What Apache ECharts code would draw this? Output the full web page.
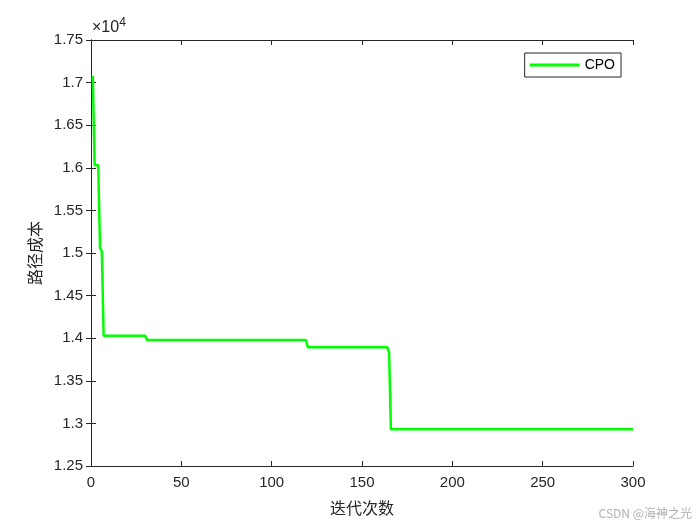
<!DOCTYPE html>
<html>
<head>
<meta charset="utf-8">
<script src="https://cdn.jsdelivr.net/npm/echarts@6/dist/echarts.min.js"></script>
<style>
  html, body { margin: 0; padding: 0; background: #fff; }
  #main { width: 700px; height: 525px; }
</style>
</head>
<body>
<div id="main"></div>
<script>
// iteration at which the best cost changes, and the cost from there on
var iterations = [1, 2, 4, 5, 6, 7, 30, 31, 119, 120, 164, 165, 166, 300];
var costs = [17080, 16030, 16030, 15060, 15020, 14030, 14030, 13980, 13980, 13895, 13895, 13830, 12930, 12930];
var seriesName = 'CPO';
var xName = '迭代次数';
var yName = '路径成本';

var chart = echarts.init(document.getElementById('main'));

var axisCommon = {
  type: 'value',
  axisLine: { show: true, lineStyle: { color: '#262626', width: 1 } },
  axisTick: { show: true, inside: true, length: 5, lineStyle: { color: '#262626' } },
  splitLine: { show: false }
};

var option = {
  animation: false,
  backgroundColor: '#fff',
  grid: { left: 91, right: 67, top: 40, bottom: 59 },
  legend: {
    data: [seriesName],
    right: 79,
    top: 53,
    orient: 'vertical',
    icon: 'rect',
    itemWidth: 50,
    itemHeight: 3,
    itemGap: 0,
    padding: [5, 6, 5, 5],
    borderColor: '#262626',
    borderWidth: 1,
    borderRadius: 0,
    textStyle: { fontFamily: 'Liberation Sans, Arial', fontSize: 14, color: '#000' }
  },
  xAxis: [
    Object.assign({}, axisCommon, {
      min: 0, max: 300, interval: 50,
      position: 'bottom',
      name: xName,
      nameLocation: 'middle',
      nameGap: 34,
      nameTextStyle: { fontFamily: 'Noto Sans CJK SC', fontSize: 16, color: '#262626' },
      axisLabel: { fontFamily: 'Liberation Sans, Arial', fontSize: 15, color: '#262626', margin: 9 }
    }),
    Object.assign({}, axisCommon, {
      min: 0, max: 300, interval: 50,
      position: 'top',
      axisLabel: { show: false }
    })
  ],
  yAxis: [
    Object.assign({}, axisCommon, {
      min: 12500, max: 17500, interval: 500,
      position: 'left',
      name: yName,
      nameLocation: 'middle',
      nameGap: 48,
      nameTextStyle: { fontFamily: 'Noto Sans CJK SC', fontSize: 16, color: '#262626' },
      axisLabel: {
        fontFamily: 'Liberation Sans, Arial', fontSize: 15, color: '#262626', margin: 8,
        formatter: function (v) { return String(+(v / 10000).toFixed(2)); }
      }
    }),
    Object.assign({}, axisCommon, {
      min: 12500, max: 17500, interval: 500,
      position: 'right',
      axisLabel: { show: false }
    })
  ],
  graphic: [
    {
      type: 'text',
      left: 92,
      top: 17,
      style: {
        text: '×10{sup|4}',
        rich: { sup: { fontSize: 12, verticalAlign: 'top', padding: [0, 0, 9, 0], fill: '#262626', fontFamily: 'Liberation Sans, Arial' } },
        fontFamily: 'Liberation Sans, Arial',
        fontSize: 16,
        fill: '#262626'
      }
    },
    {
      type: 'text',
      right: 8,
      bottom: 6,
      style: {
        text: 'CSDN @海神之光',
        fontFamily: 'Noto Sans CJK SC',
        fontSize: 12,
        fill: '#b0b0b0'
      }
    }
  ],
  series: [
    {
      name: seriesName,
      type: 'line',
      xAxisIndex: 0,
      yAxisIndex: 0,
      data: iterations.map(function (it, i) { return [it, costs[i]]; }),
      showSymbol: false,
      symbol: 'none',
      lineStyle: { color: '#00ff00', width: 2.5 },
      itemStyle: { color: '#00ff00' }
    }
  ]
};

chart.setOption(option);
</script>
</body>
</html>
